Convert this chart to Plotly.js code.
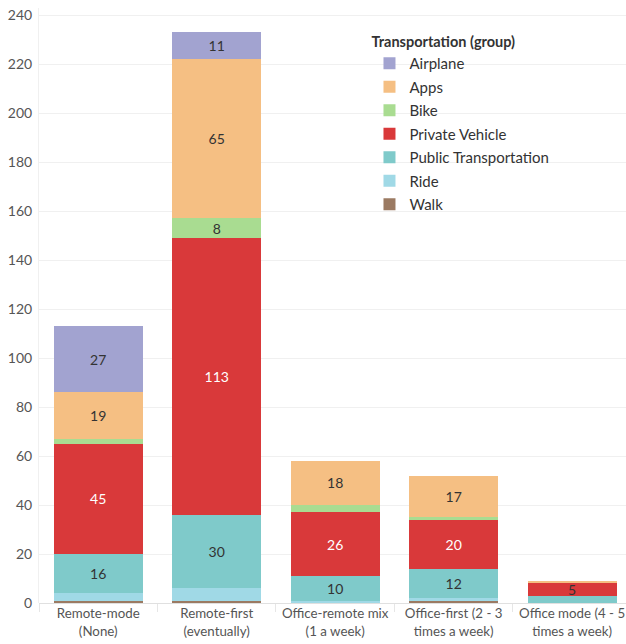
<!DOCTYPE html>
<html>
<head>
<meta charset="utf-8">
<script src="https://cdn.plot.ly/plotly-3.0.1.min.js"></script>
<style>html,body{margin:0;padding:0;background:#fff;}#chart{width:626px;height:644px;}</style>
</head>
<body>
<div id="chart"></div>
<script>
const categories = ["Remote-mode<br>(None)", "Remote-first<br>(eventually)", "Office-remote mix<br>(1 a week)", "Office-first (2 - 3<br>times a week)", "Office mode (4 - 5<br>times a week)"];
const walk = [1, 1, 0, 1, 0];
const ride = [3, 5, 1, 1, 0];
const publicTransportation = [16, 30, 10, 12, 3];
const privateVehicle = [45, 113, 26, 20, 5];
const bike = [2, 8, 3, 1, 0];
const apps = [19, 65, 18, 17, 1];
const airplane = [27, 11, 0, 0, 0];

const series = [
  {name: "Walk", values: walk, color: "#9B7A62", labels: false, rank: 7},
  {name: "Ride", values: ride, color: "#A0D9E6", labels: false, rank: 6},
  {name: "Public Transportation", values: publicTransportation, color: "#7FCACA", labels: true, rank: 5},
  {name: "Private Vehicle", values: privateVehicle, color: "#D9393A", labels: true, light: true, rank: 4},
  {name: "Bike", values: bike, color: "#A9DC91", labels: true, rank: 3},
  {name: "Apps", values: apps, color: "#F5BF83", labels: true, rank: 2},
  {name: "Airplane", values: airplane, color: "#A2A3D0", labels: true, rank: 1}
];

const FONT = "Lato, 'Open Sans', sans-serif";
const traces = series.map(s => ({
  type: "bar",
  name: s.name,
  legendgroup: s.name,
  legendrank: s.rank,
  x: categories,
  y: s.values,
  marker: {color: s.color, line: {width: 0}},
  text: s.values.map(v => (s.labels && v >= 5) ? String(v) : ""),
  textposition: "inside",
  insidetextanchor: "middle",
  textangle: 0,
  constraintext: "none",
  textfont: {family: FONT, size: 14, color: s.values.map(v => (s.light && v >= 10) ? "#ffffff" : "#333333")},
  hoverinfo: "x+y+name"
}));

const layout = {
  width: 626, height: 644,
  margin: {l: 39, r: 0, t: 8, b: 41},
  barmode: "stack",
  bargap: 0.25,
  paper_bgcolor: "#fff",
  plot_bgcolor: "#fff",
  font: {family: FONT, color: "#555"},
  showlegend: true,
  legend: {
    x: 0.563, y: 0.966, xanchor: "left", yanchor: "top",
    traceorder: "grouped",
    tracegroupgap: 1,
    font: {family: FONT, size: 15, color: "#333"},
    title: {text: "<b>Transportation (group)</b>", font: {family: FONT, size: 14.5, color: "#333"}},
    bgcolor: "rgba(255,255,255,0)"
  },
  xaxis: {
    type: "category",
    range: [-0.5, 4.455],
    showgrid: false,
    ticks: "outside",
    tickson: "boundaries",
    ticklen: 8,
    tickcolor: "#e6e6e6",
    tickangle: 0,
    ticklabelstandoff: 1,
    tickfont: {family: FONT, size: 13.3, color: "#555"},
    showline: false,
    fixedrange: true
  },
  yaxis: {
    range: [0, 242.9],
    tickvals: [0, 20, 40, 60, 80, 100, 120, 140, 160, 180, 200, 220, 240],
    showgrid: true,
    gridcolor: "#f0f0f0",
    zeroline: true,
    zerolinecolor: "#e0e0e0",
    showline: true,
    linecolor: "#f0f0f0",
    ticks: "",
    ticklabelstandoff: 3,
    tickfont: {family: FONT, size: 14, color: "#555"},
    fixedrange: true
  }
};

Plotly.newPlot("chart", traces, layout, {displayModeBar: false, staticPlot: true});
</script>
</body>
</html>
